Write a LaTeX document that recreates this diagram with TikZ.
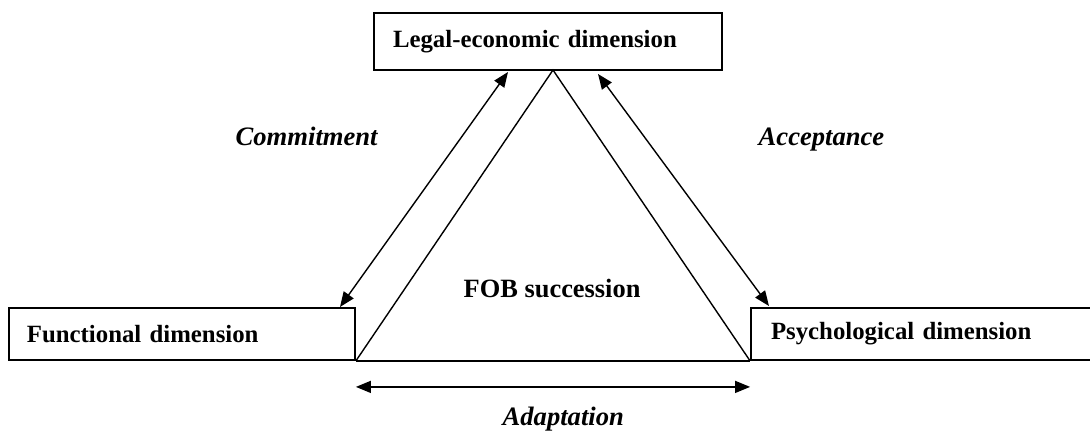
\documentclass[tikz,border=0pt]{standalone}
\usepackage{fontspec}
\setmainfont{Liberation Serif}
\usetikzlibrary{arrows.meta,calc}
\begin{document}
\begin{tikzpicture}[x=1pt,y=-1pt,
  line width=1.4pt,
  dimbox/.style={draw, line width=1.8pt, inner sep=0pt, align=left,
    font=\fontsize{24.8}{28}\selectfont\bfseries},
  flowlabel/.style={inner sep=0pt, anchor=base west,
    font=\fontsize{26.6}{30}\selectfont\bfseries\itshape},
  twoway/.style={{Triangle[length=15pt,width=12pt]}-{Triangle[length=15pt,width=12pt]}, line width=1.4pt},
  side/.style={line width=1.4pt}]
\useasboundingbox (0,0) rectangle (1090,432);

% the three dimensions
\node[dimbox, minimum width=348pt, minimum height=57pt, text width=310pt]
  (legal) at (548,41.5) {Legal-economic dimension};
\node[dimbox, minimum width=346pt, minimum height=52pt, text width=310pt]
  (func) at (182,334) {Functional dimension};
\node[dimbox, minimum width=360pt, minimum height=52pt, text width=320pt]
  (psych) at (931,334) {Psychological dimension};

% triangle between them
\coordinate (apex) at (553,70);
\coordinate (baseL) at (func.south east);
\coordinate (baseR) at (psych.south west);
\draw[side] (baseL) -- (apex) -- (baseR);
\draw[line width=1.8pt] (baseL) -- (baseR);

\node[inner sep=0pt, anchor=base west, font=\fontsize{26.4}{30}\selectfont\bfseries]
  (fob) at (463,297) {FOB succession};

% relations
\coordinate (cLow) at (340,307);
\coordinate (cHigh) at (508,72);
\coordinate (aHigh) at (598,74);
\coordinate (aLow) at (769,306);
\draw[twoway] (cLow) -- (cHigh);
\draw[twoway] (aHigh) -- (aLow);
\coordinate (adL) at ($(baseL)+(0,26)$);
\coordinate (adR) at ($(baseR)+(0,26)$);
\draw[twoway] (adL) -- (adR);

\node[flowlabel] (commit) at (235,145) {Commitment};
\node[flowlabel] (accept) at (758,145) {Acceptance};
\node[flowlabel] (adapt) at (502,425) {Adaptation};
\end{tikzpicture}
\end{document}
